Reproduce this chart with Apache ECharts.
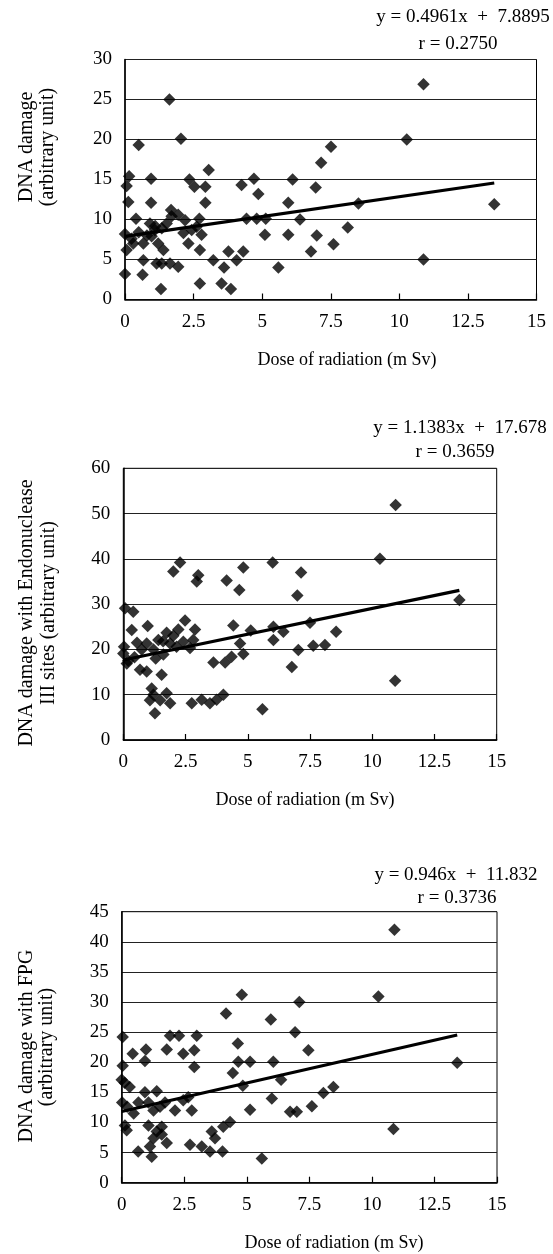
<!DOCTYPE html>
<html>
<head>
<meta charset="utf-8">
<script src="https://cdn.jsdelivr.net/npm/echarts@6/dist/echarts.min.js"></script>
<style>
html,body{margin:0;padding:0;background:#fff;}
#c{width:553px;height:1254px;}
</style>
</head>
<body>
<div id="c"></div>
<script>
// ---------- Panel 1: DNA damage ----------
const dose1 = [0.0,0.06,0.0,0.24,0.3,0.12,0.06,0.15,0.4,0.5,0.64,0.67,0.67,0.91,0.95,0.95,0.97,1.09,1.15,1.21,1.31,1.34,1.34,1.4,1.52,1.62,1.64,1.68,1.70,1.94,1.94,2.04,2.13,2.19,2.31,2.35,2.43,2.53,2.61,2.71,2.73,2.73,2.79,2.93,2.93,3.05,3.22,3.52,3.61,3.77,3.86,4.07,4.25,4.31,4.43,4.70,4.80,4.86,5.10,5.13,5.59,5.95,5.95,6.11,6.38,6.78,6.95,6.99,7.15,7.51,7.6,8.12,8.51,10.27,10.88,10.88,13.46,0.5,0.8,1.1];
const dna1  = [3.2,6.2,8.2,7.6,7.0,12.2,14.2,15.4,10.1,19.3,3.1,7.0,4.9,9.5,15.1,12.1,7.9,8.7,4.5,7.0,1.3,8.9,4.5,6.2,9.5,25.0,4.5,11.2,10.4,10.6,4.1,20.1,8.3,9.9,7.0,15.0,8.7,14.1,9.1,10.1,6.2,2.0,8.1,14.1,12.1,16.2,4.9,2.0,4.0,6.0,1.3,4.9,14.3,6.0,10.1,15.1,10.1,13.2,8.1,10.1,4.0,8.1,12.1,15.0,10.0,6.0,14.0,8.0,17.1,19.1,6.9,9.0,12.0,20.0,26.9,5.0,11.9,8.4,8.0,9.2];
const fit1 = [0.4961, 7.8895];

// ---------- Panel 2: DNA damage with Endonuclease III sites ----------
const dose2 = [0.0,0.03,0.07,0.14,0.34,0.4,0.45,0.67,0.74,0.94,0.94,0.98,1.07,1.14,1.21,1.21,1.27,1.41,1.48,1.54,1.61,1.74,1.74,1.88,1.88,2.01,2.01,2.14,2.21,2.28,2.41,2.48,2.68,2.75,2.81,2.88,2.95,3.01,3.15,3.48,3.62,3.75,4.02,4.09,4.15,4.35,4.42,4.66,4.69,4.82,4.82,5.12,5.59,6.0,6.03,6.03,6.43,6.77,6.99,7.03,7.14,7.5,7.63,8.1,8.55,10.31,10.92,10.94,13.5,0.2,0.55,1.3,1.6];
const endo2 = [19.1,20.6,29.1,16.9,24.3,28.3,18.3,15.5,20.0,21.3,15.1,25.2,8.8,11.4,20.0,10.0,5.9,22.1,8.8,14.4,18.9,23.7,10.3,21.3,8.1,37.2,23.0,20.6,24.4,39.2,21.7,26.4,20.3,8.1,22.1,24.4,35.0,36.4,8.9,8.1,17.1,8.9,10.0,17.1,35.2,18.4,25.3,33.1,21.3,38.1,19.0,24.2,6.8,39.2,25.0,22.1,23.9,16.1,31.9,19.9,37.0,25.9,20.8,21.0,23.9,40.0,13.1,51.9,30.9,17.5,21.5,18.0,21.8];
const fit2 = [1.1383, 17.678];

// ---------- Panel 3: DNA damage with FPG ----------
const dose3 = [0.0,0.02,0.04,0.04,0.12,0.13,0.2,0.22,0.32,0.44,0.48,0.66,0.67,0.93,0.93,0.97,1.07,1.07,1.13,1.2,1.27,1.27,1.4,1.4,1.53,1.6,1.6,1.73,1.8,1.8,1.93,2.13,2.29,2.46,2.46,2.66,2.73,2.8,2.9,2.9,3.0,3.2,3.53,3.6,3.73,4.03,4.06,4.17,4.33,4.44,4.64,4.66,4.8,4.84,5.13,5.13,5.6,5.96,6.0,6.06,6.37,6.73,6.93,7.0,7.1,7.46,7.6,8.06,8.46,10.26,10.86,10.9,13.41];
const fpg3  = [17.1,13.3,24.2,19.4,16.6,9.5,8.7,12.6,15.9,21.4,11.5,5.2,13.3,20.2,15.0,22.1,13.3,9.5,6.0,4.3,12.0,7.4,15.2,8.5,12.6,9.3,8.0,13.3,22.1,6.6,24.4,12.0,24.4,21.4,13.7,14.2,6.3,12.0,22.0,19.2,24.4,6.0,5.2,8.5,7.4,5.2,9.3,28.1,10.1,18.2,23.1,20.1,31.2,16.1,20.1,12.1,4.0,27.1,14.0,20.1,17.1,11.8,25.0,11.8,30.0,22.0,12.7,14.9,15.9,30.9,8.9,42.0,19.9];
const fit3 = [0.946, 11.832];

// ---------- Axes ----------
const xTicks = [0, 2.5, 5, 7.5, 10, 12.5, 15];
const yMax = [30, 60, 45];
const yStep = [5, 10, 5];

const pairs = (xs, ys) => xs.map((x, i) => [x, ys[i]]);
const trend = (xs, f) => { const mx = Math.max(...xs); return [[0, f[1]], [mx, f[0] * mx + f[1]]]; };

const FONT = 'Liberation Serif';
const grids = [
  {left: 125, width: 411.5, top: 59.5, height: 240},
  {left: 123.3, width: 373.4, top: 468.3, height: 271.7},
  {left: 121.7, width: 375.3, top: 911.7, height: 271}
];

const xAxes = grids.map((g, i) => ({
  type: 'value', gridIndex: i, min: xTicks[0], max: xTicks[xTicks.length - 1], interval: xTicks[1] - xTicks[0],
  axisLine: {show: true, lineStyle: {color: '#000', width: 1.5}},
  axisTick: {show: true, inside: true, length: 6, lineStyle: {color: '#000', width: 1.2}},
  axisLabel: {color: '#000', fontFamily: FONT, fontSize: 19, margin: 13},
  splitLine: {show: false}
}));
const yAxes = grids.map((g, i) => ({
  type: 'value', gridIndex: i, min: 0, max: yMax[i], interval: yStep[i],
  axisLine: {show: true, lineStyle: {color: '#000', width: 1.5}},
  axisTick: {show: false},
  axisLabel: {color: '#000', fontFamily: FONT, fontSize: 19, margin: 13},
  splitLine: {show: true, lineStyle: {color: '#222', width: 1}}
}));

const sets = [[dose1, dna1, fit1], [dose2, endo2, fit2], [dose3, fpg3, fit3]];
const series = [];
sets.forEach((s, i) => {
  series.push({
    type: 'line', xAxisIndex: i, yAxisIndex: i, data: trend(s[0], s[2]),
    symbol: 'none', lineStyle: {color: '#000', width: 3.2}, z: 3, silent: true
  });
  series.push({
    type: 'scatter', xAxisIndex: i, yAxisIndex: i, data: pairs(s[0], s[1]),
    symbol: 'diamond', symbolSize: 12.5, itemStyle: {color: '#000'}, z: 2
  });
});

const txt = (t, x, y, size) => ({
  type: 'text', x: x, y: y,
  style: {text: t, fill: '#000', font: (size || 18) + 'px "' + FONT + '"', textAlign: 'center', textVerticalAlign: 'middle'}
});
const rot = (t, x, y) => {
  const e = txt(t, x, y, 20);
  e.rotation = Math.PI / 2;
  return e;
};

const graphic = [
  txt('y = 0.4961x  +  7.8895', 463, 17, 19), txt('r = 0.2750', 458, 44, 19),
  txt('y = 1.1383x  +  17.678', 460, 428, 19), txt('r = 0.3659', 455, 452, 19),
  txt('y = 0.946x  +  11.832', 456, 875, 19), txt('r = 0.3736', 457, 898, 19),
  txt('Dose of radiation (m Sv)', 347, 360, 18),
  txt('Dose of radiation (m Sv)', 305, 800, 18),
  txt('Dose of radiation (m Sv)', 334, 1243, 18),
  rot('DNA damage', 27, 147), rot('(arbitrary unit)', 48, 147),
  rot('DNA damage with Endonuclease', 27, 613), rot('III sites (arbitrary unit)', 49, 613),
  rot('DNA damage with FPG', 27, 1046), rot('(arbitrary unit)', 47, 1047)
];

const chart = echarts.init(document.getElementById('c'), null, {renderer: 'canvas'});
chart.setOption({
  backgroundColor: '#fff',
  animation: false,
  grid: grids.map(g => Object.assign({show: true, borderColor: '#000', borderWidth: 1, backgroundColor: 'transparent'}, g)),
  xAxis: xAxes,
  yAxis: yAxes,
  series: series,
  graphic: graphic
});
</script>
</body>
</html>
